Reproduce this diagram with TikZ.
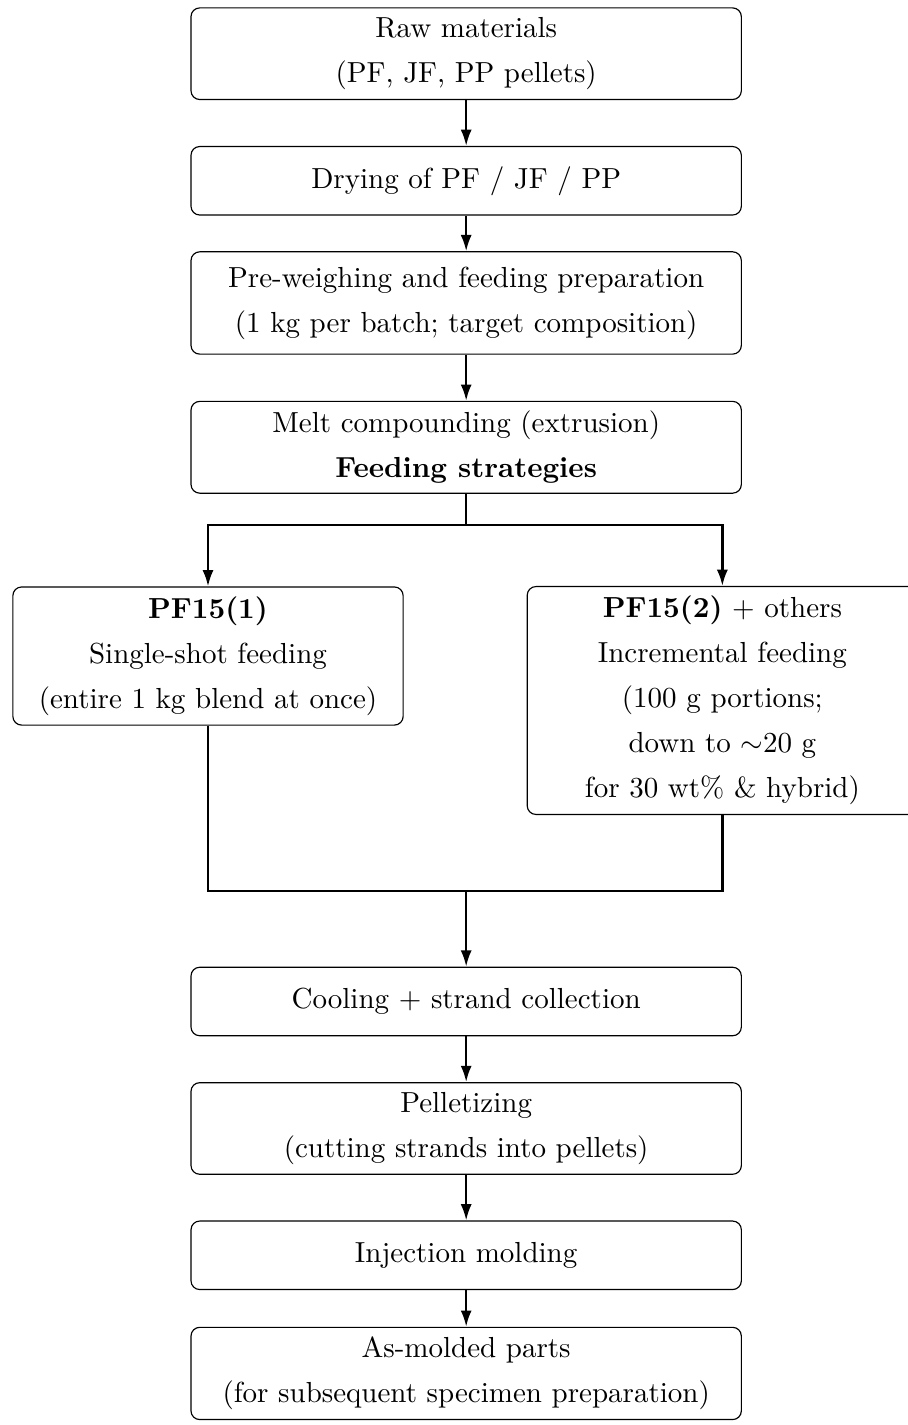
\documentclass[tikz,border=0pt]{standalone}
\usetikzlibrary{arrows.meta}
\tikzset{
  stepbox/.style={draw, rounded corners=3pt, align=center, minimum width=6.67cm,
    font=\linespread{1.29}\selectfont},
  sidebox/.style={stepbox, minimum width=4.73cm},
  flow/.style={thick, -{Latex[length=5.6pt,width=3.8pt]}},
  link/.style={thick}
}
\begin{document}
\begin{tikzpicture}
\useasboundingbox (0,0) rectangle (10.993,-17.271);
% Preparation
\node[stepbox] (raw) at (5.65,-0.651) {Raw materials\\(PF, JF, PP pellets)};
\node[stepbox,minimum height=0.83cm] (dry) at (5.65,-2.191) {Drying of PF / JF / PP};
\node[stepbox,minimum height=1.24cm] (weigh) at (5.65,-3.672)
  {Pre-weighing and feeding preparation\\(1 kg per batch; target composition)};
\node[stepbox] (melt) at (5.65,-5.421) {Melt compounding (extrusion)\\\textbf{Feeding strategies}};
\draw[flow] (raw) -- (dry);
\draw[flow] (dry) -- (weigh);
\draw[flow] (weigh) -- (melt);

% Feeding strategies
\node[sidebox] (pf1) at (2.521,-7.951) {\textbf{PF15(1)}\\Single-shot feeding\\(entire 1 kg blend at once)};
\node[sidebox] (pf2) at (8.755,-8.490)
  {\textbf{PF15(2)} $+$ others\\Incremental feeding\\(100 g portions;\\down to $\sim$20 g\\for 30 wt\% \& hybrid)};
\coordinate (split) at (5.65,-6.363);
\coordinate (merge) at (5.65,-10.799);
\draw[link] (melt) -- (split);
\draw[flow] (split) -| (pf1);
\draw[flow] (split) -| (pf2);
\draw[link] (pf1) |- (merge) -| (pf2);

% Processing
\node[stepbox,minimum height=0.83cm] (cool) at (5.65,-12.138) {Cooling $+$ strand collection};
\node[stepbox] (pellet) at (5.65,-13.677) {Pelletizing\\(cutting strands into pellets)};
\node[stepbox,minimum height=0.83cm] (inject) at (5.65,-15.214) {Injection molding};
\node[stepbox] (parts) at (5.65,-16.646) {As-molded parts\\(for subsequent specimen preparation)};
\draw[flow] (merge) -- (cool);
\draw[flow] (cool) -- (pellet);
\draw[flow] (pellet) -- (inject);
\draw[flow] (inject) -- (parts);
\end{tikzpicture}
\end{document}
